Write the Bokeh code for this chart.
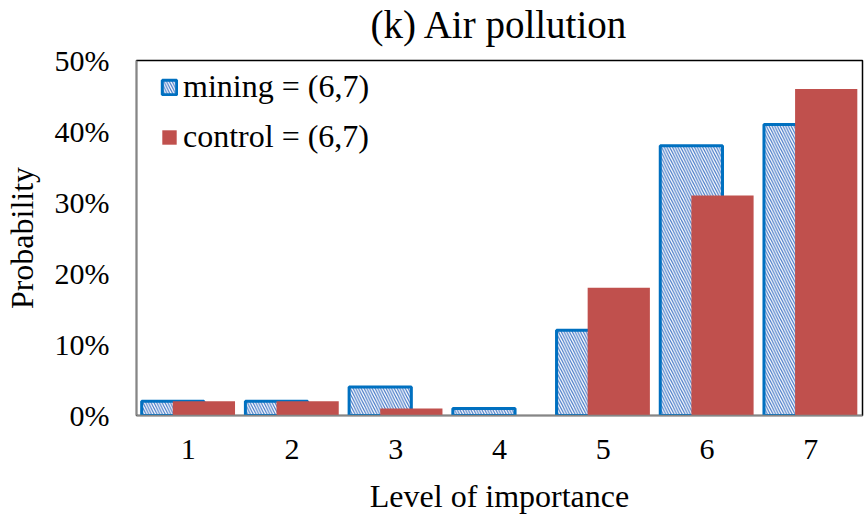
from bokeh.plotting import figure
from bokeh.models import (FactorRange, Range1d, FixedTicker, PrintfTickFormatter,
                          Legend, LegendItem, ColumnDataSource, Title)
from bokeh.transform import dodge
from bokeh.embed import file_html
from bokeh.resources import INLINE

# ---- data ----
levels = ["1", "2", "3", "4", "5", "6", "7"]
mining = [2, 2, 4, 1, 12, 38, 41]
control = [2, 2, 1, 0, 18, 31, 46]
y_ticks = [0, 10, 20, 30, 40, 50]
mining_label = "mining = (6,7)"
control_label = "control = (6,7)"
title_text = "(k) Air pollution"
x_title = "Level of importance"
y_title = "Probability"

FONT = "Liberation Serif"

src = ColumnDataSource(dict(level=levels, mining=mining, control=control))

p = figure(width=866, height=529,
           x_range=FactorRange(*levels, range_padding=0),
           y_range=Range1d(0, 50),
           output_backend="svg", toolbar_location=None,
           min_border_left=136, min_border_right=4,
           min_border_top=60, min_border_bottom=114,
           title=title_text)

p.title.text_font = FONT
p.title.text_font_size = "39px"
p.title.text_font_style = "normal"
p.title.text_color = "black"
p.title.align = "center"
p.title.standoff = 0

# small empty spacer between the frame and the title
p.add_layout(Title(text=" ", text_font_size="1px", standoff=12), "above")

r1 = p.vbar(x=dodge("level", -0.15, range=p.x_range), top="mining", width=0.6,
            source=src, fill_color="white", line_color="#0070C0", line_width=3,
            hatch_pattern="\\", hatch_color="#4477C6", hatch_scale=5.5,
            hatch_weight=1.2)
r2 = p.vbar(x=dodge("level", 0.15, range=p.x_range), top="control", width=0.6,
            source=src, fill_color="#C0504D", line_color=None)

legend = Legend(items=[LegendItem(label=mining_label, renderers=[r1]),
                       LegendItem(label=control_label, renderers=[r2])],
                location=(24, 260), margin=0, padding=0, spacing=13,
                glyph_width=18, glyph_height=18, label_standoff=5,
                label_text_font=FONT, label_text_font_size="32px",
                label_text_color="black",
                background_fill_alpha=0, border_line_color=None)
p.add_layout(legend)

p.xgrid.visible = False
p.ygrid.visible = False
p.outline_line_color = "black"
p.outline_line_width = 1.5

for ax in (p.xaxis[0], p.yaxis[0]):
    ax.axis_line_color = "#868686"
    ax.axis_line_width = 1.5
    ax.major_tick_out = 0
    ax.major_tick_in = 0
    ax.minor_tick_out = 0
    ax.minor_tick_in = 0
    ax.major_label_text_font = FONT
    ax.major_label_text_font_size = "30px"
    ax.major_label_text_color = "black"
    ax.axis_label_text_font = FONT
    ax.axis_label_text_font_size = "32px"
    ax.axis_label_text_font_style = "normal"
    ax.axis_label_text_color = "black"

p.xaxis.axis_label = x_title
p.xaxis.major_label_standoff = 24
p.xaxis.axis_label_standoff = 16

p.yaxis.axis_label = y_title
p.yaxis.ticker = FixedTicker(ticks=y_ticks)
p.yaxis.formatter = PrintfTickFormatter(format="%d%%")
p.yaxis.major_label_standoff = 27
p.yaxis.axis_label_standoff = 12

open("out.html", "w").write(file_html(p, INLINE))
